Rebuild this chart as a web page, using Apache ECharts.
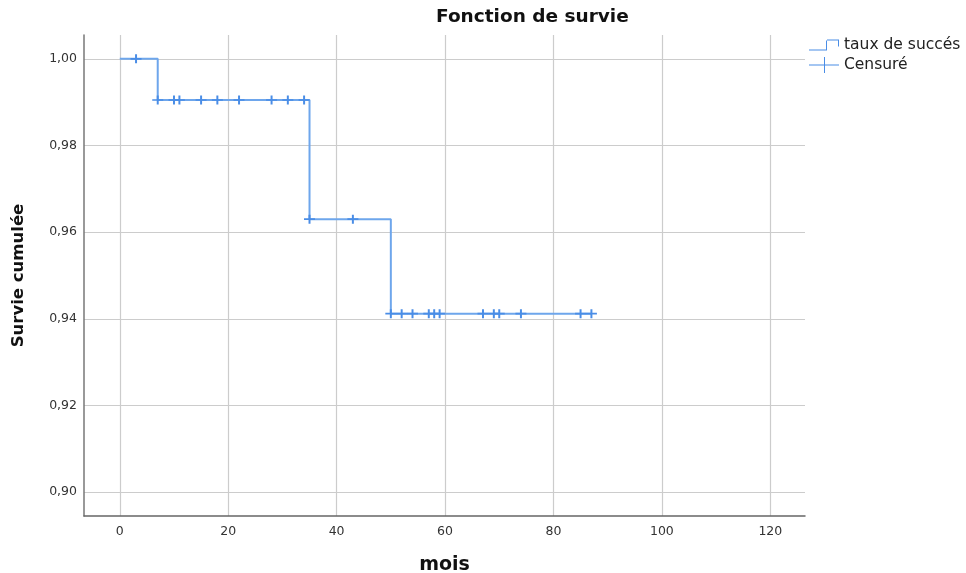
<!DOCTYPE html>
<html>
<head>
<meta charset="utf-8">
<script src="https://cdn.jsdelivr.net/npm/echarts@6/dist/echarts.min.js"></script>
<style>
html,body{margin:0;padding:0;background:#fff;overflow:hidden;}
#chart{width:966px;height:573px;}
</style>
</head>
<body>
<div id="chart"></div>
<script>
// Step survival curve (time in months, cumulative survival)
var stepTimes = [0, 7, 35, 50, 87];
var stepSurvival = [1.0, 0.9905, 0.9630, 0.9412, 0.9412];
// Censored observations grouped by survival level
var censorLevels = [1.0, 0.9905, 0.9630, 0.9412];
var censorTimes = [
  [3],
  [7, 10, 11, 15, 18, 22, 28, 31, 34],
  [35, 43],
  [50, 52, 54, 57, 58, 59, 67, 69, 70, 74, 85, 87]
];
var xTicks = [0, 20, 40, 60, 80, 100, 120];
var yTicks = [0.90, 0.92, 0.94, 0.96, 0.98, 1.00];
var seriesNames = ['taux de succés', 'Censuré'];

var lineData = stepTimes.map(function (t, i) { return [t, stepSurvival[i]]; });
var censorData = [];
censorTimes.forEach(function (arr, i) {
  arr.forEach(function (t) { censorData.push([t, censorLevels[i]]); });
});

var lineBlue = '#6ea6ec';
var markBlue = '#4a8de6';
var font = "'DejaVu Sans', 'Open Sans', sans-serif";
var plus = 'path://M4.1,0 L5.9,0 L5.9,4.1 L10,4.1 L10,5.9 L5.9,5.9 L5.9,10 L4.1,10 L4.1,5.9 L0,5.9 L0,4.1 L4.1,4.1 Z';
var stepIcon = 'path://M0,14 L18,14 L18,13 L0,13 Z M17,14 L18,14 L18,3 L17,3 Z M17,3 L30,3 L30,4 L17,4 Z M29,3 L30,3 L30,10 L29,10 Z';
var censIcon = 'path://M0,7.5 L30,7.5 L30,8.5 L0,8.5 Z M15,0 L16,0 L16,16 L15,16 Z';

var chart = echarts.init(document.getElementById('chart'), null, {renderer: 'canvas', width: 966, height: 573});
chart.setOption({
  animation: false,
  backgroundColor: '#ffffff',
  textStyle: {fontFamily: font},
  title: {
    text: 'Fonction de survie',
    left: 436, top: 8, padding: 0,
    textStyle: {fontFamily: font, fontWeight: 'bold', fontSize: 18.5, color: '#111'}
  },
  legend: {
    orient: 'vertical',
    left: 809, top: 37,
    padding: 0,
    itemGap: 4,
    itemWidth: 30, itemHeight: 16,
    selectedMode: false,
    textStyle: {fontFamily: font, fontSize: 15.5, color: '#222'},
    data: [
      {name: seriesNames[0], icon: stepIcon, itemStyle: {color: markBlue, opacity: 1}},
      {name: seriesNames[1], icon: censIcon, itemStyle: {color: markBlue, opacity: 1}}
    ]
  },
  grid: {left: 84, right: 161, top: 35, bottom: 57, containLabel: false, outerBoundsMode: 'none'},
  xAxis: {
    type: 'value',
    min: -6.6, max: 126.4,
    name: 'mois',
    nameLocation: 'middle',
    nameGap: 40,
    nameTextStyle: {fontFamily: font, fontWeight: 'bold', fontSize: 19, color: '#111'},
    axisLine: {show: true, onZero: false, lineStyle: {color: '#666', width: 1.5}},
    axisTick: {show: false, customValues: xTicks},
    axisLabel: {customValues: xTicks, fontSize: 12.5, color: '#333', margin: 9, fontFamily: font},
    splitLine: {show: true, lineStyle: {color: '#cccccc', width: 1.2}}
  },
  yAxis: {
    type: 'value',
    min: 0.8945, max: 1.0055,
    name: 'Survie cumulée',
    nameLocation: 'middle',
    nameRotate: 90,
    nameGap: 57,
    nameTextStyle: {fontFamily: font, fontWeight: 'bold', fontSize: 16.5, color: '#111'},
    axisLine: {show: true, onZero: false, lineStyle: {color: '#777', width: 1.5}},
    axisTick: {show: false, customValues: yTicks},
    axisLabel: {
      customValues: yTicks, fontSize: 12.5, color: '#333', margin: 7, fontFamily: font,
      formatter: function (v) { return v.toFixed(2).replace('.', ','); }
    },
    splitLine: {show: true, lineStyle: {color: '#cccccc', width: 1.2}}
  },
  series: [
    {
      name: seriesNames[0],
      type: 'line',
      step: 'end',
      data: lineData,
      showSymbol: false,
      symbol: 'none',
      lineStyle: {color: lineBlue, width: 2},
      itemStyle: {color: lineBlue},
      z: 2
    },
    {
      name: seriesNames[1],
      type: 'scatter',
      data: censorData,
      symbol: plus,
      symbolSize: [11, 9],
      itemStyle: {color: markBlue, opacity: 1},
      z: 3
    }
  ]
});
</script>
</body>
</html>
